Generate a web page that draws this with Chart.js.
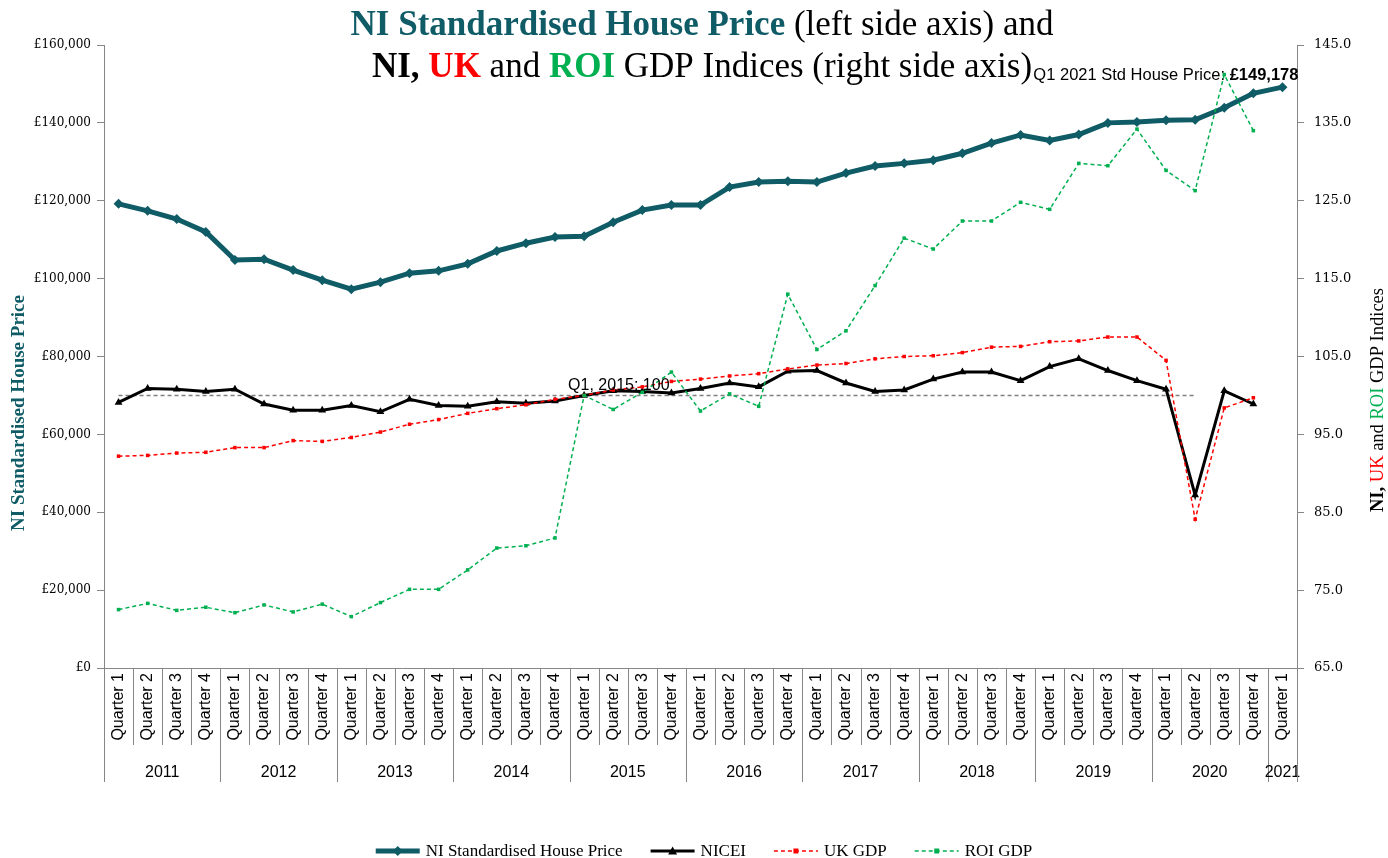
<!DOCTYPE html>
<html>
<head>
<meta charset="utf-8">
<script src="https://cdn.jsdelivr.net/npm/chart.js@4.4.0/dist/chart.umd.min.js"></script>
<style>
  html, body { margin: 0; padding: 0; background: #fff; }
  canvas { display: block; }
</style>
</head>
<body>
<canvas id="myChart" width="1388" height="858"></canvas>
<script>
// ---- data ----
var years = ['2011','2012','2013','2014','2015','2016','2017','2018','2019','2020','2021'];
var quartersPerYear = [4,4,4,4,4,4,4,4,4,4,1];
var quarterNames = ['Quarter 1','Quarter 2','Quarter 3','Quarter 4'];

var housePrice = [119200,117400,115300,112000,104800,105000,102200,99600,97300,99100,
                  101400,102000,103800,107100,109100,110700,110900,114500,117600,118900,
                  118900,123500,124800,125000,124800,127100,128900,129600,130400,132200,
                  134800,136900,135500,137000,140000,140200,140700,140800,143900,147600,149178];
var nicei = [99.1,100.9,100.8,100.5,100.8,98.9,98.1,98.1,98.7,97.9,
             99.5,98.7,98.6,99.2,99.0,99.3,100.0,100.6,100.5,100.3,
             100.9,101.6,101.1,103.1,103.2,101.6,100.5,100.7,102.1,103.0,
             103.0,101.9,103.7,104.7,103.2,101.9,100.8,87.2,100.6,98.9];
var ukGdp = [92.2,92.3,92.6,92.7,93.3,93.3,94.2,94.1,94.6,95.3,
             96.3,96.9,97.7,98.3,98.8,99.5,100.0,100.7,101.1,101.8,
             102.1,102.5,102.8,103.4,103.9,104.1,104.7,105.0,105.1,105.5,
             106.2,106.3,106.9,107.0,107.5,107.5,104.5,84.1,98.4,99.7];
var roiGdp = [72.5,73.3,72.4,72.8,72.1,73.1,72.2,73.2,71.6,73.4,
              75.1,75.1,77.6,80.4,80.7,81.7,100.0,98.2,100.4,103.0,
              98.0,100.2,98.6,113.0,105.9,108.3,114.1,120.2,118.8,122.4,
              122.4,124.8,123.9,129.8,129.5,134.2,128.9,126.3,141.2,134.0];

var baseValue = 100;      // Q1 2015 = 100 reference line
var baseIndex = 16;       // Q1 2015
var baseLastIndex = 37;   // dashed line runs to Q2 2020

var labels = [];
years.forEach(function(y, k){
  for (var q = 0; q < quartersPerYear[k]; q++) labels.push(quarterNames[q]);
});

var TEAL = '#0f5b66', RED = '#ff0000', GREEN = '#00b050', GREY = '#868686';
var SERIF = "'Liberation Serif', serif";
var SANS = "'Liberation Sans', sans-serif";

// draws a row of coloured text pieces starting at x
function drawPieces(ctx, pieces, x, y, size){
  pieces.forEach(function(p){
    ctx.font = (p.b ? 'bold ' : '') + size + 'px ' + (p.f || SERIF);
    ctx.fillStyle = p.c || '#000';
    ctx.fillText(p.t, x, y);
    x += ctx.measureText(p.t).width;
  });
}
function piecesWidth(ctx, pieces, size){
  var w = 0;
  pieces.forEach(function(p){
    ctx.font = (p.b ? 'bold ' : '') + size + 'px ' + (p.f || SERIF);
    w += ctx.measureText(p.t).width;
  });
  return w;
}

function marker(ctx, style, x, y, r, color){
  ctx.save();
  ctx.fillStyle = color;
  ctx.beginPath();
  if (style === 'rectRot') {
    ctx.moveTo(x, y - r); ctx.lineTo(x + r, y); ctx.lineTo(x, y + r); ctx.lineTo(x - r, y);
  } else if (style === 'triangle') {
    ctx.moveTo(x, y - r); ctx.lineTo(x + r, y + r * 0.8); ctx.lineTo(x - r, y + r * 0.8);
  } else {
    ctx.rect(x - r, y - r, 2 * r, 2 * r);
  }
  ctx.closePath();
  ctx.fill();
  ctx.restore();
}

var extras = {
  id: 'extras',
  beforeDatasetsDraw: function(chart){
    var ctx = chart.ctx, xs = chart.scales.x, yr = chart.scales.y1;
    // Q1 2015 = 100 dashed line
    var yb = yr.getPixelForValue(baseValue);
    ctx.save();
    ctx.strokeStyle = '#7f7f7f';
    ctx.lineWidth = 1.5;
    ctx.setLineDash([4, 3]);
    ctx.beginPath();
    ctx.moveTo(xs.getPixelForTick(0), yb);
    ctx.lineTo(xs.getPixelForTick(baseLastIndex), yb);
    ctx.stroke();
    ctx.restore();
  },
  afterDraw: function(chart){
    var ctx = chart.ctx, xs = chart.scales.x, yl = chart.scales.y, yr = chart.scales.y1;
    var area = chart.chartArea;
    ctx.save();
    ctx.textBaseline = 'alphabetic';

    // title, two lines
    var line1 = [{t:'NI Standardised House Price', b:true, c:TEAL}, {t:' (left side axis) and'}];
    var line2 = [{t:'NI,', b:true}, {t:' '}, {t:'UK', b:true, c:RED}, {t:' and '},
                 {t:'ROI', b:true, c:GREEN}, {t:' GDP Indices (right side axis)'}];
    var ts = 35;
    drawPieces(ctx, line1, 702 - piecesWidth(ctx, line1, ts) / 2, 35, ts);
    drawPieces(ctx, line2, 702 - piecesWidth(ctx, line2, ts) / 2, 77, ts);

    // left axis title
    ctx.save();
    ctx.translate(24, 413);
    ctx.rotate(-Math.PI / 2);
    ctx.textAlign = 'center';
    ctx.font = 'bold 19px ' + SERIF;
    ctx.fillStyle = TEAL;
    ctx.fillText('NI Standardised House Price', 0, 0);
    ctx.restore();

    // right axis title
    var rt = [{t:'NI,', b:true}, {t:' '}, {t:'UK', c:RED}, {t:' and '}, {t:'ROI', c:GREEN}, {t:' GDP Indices'}];
    ctx.save();
    ctx.translate(1383, 400);
    ctx.rotate(-Math.PI / 2);
    drawPieces(ctx, rt, -piecesWidth(ctx, rt, 18.5) / 2, 0, 18.5);
    ctx.restore();

    // category separators and year row
    var step = xs.getPixelForTick(1) - xs.getPixelForTick(0);
    var x0 = xs.getPixelForTick(0) - step / 2;
    ctx.strokeStyle = GREY;
    ctx.lineWidth = 1;
    var idx = 0;
    ctx.font = '16px ' + SANS;
    ctx.fillStyle = '#000';
    ctx.textAlign = 'center';
    for (var k = 0; k < years.length; k++) {
      var xa = x0 + idx * step;
      ctx.beginPath(); ctx.moveTo(Math.round(xa) + 0.5, area.bottom); ctx.lineTo(Math.round(xa) + 0.5, 782); ctx.stroke();
      for (var q = 1; q < quartersPerYear[k]; q++) {
        var xq = Math.round(x0 + (idx + q) * step) + 0.5;
        ctx.beginPath(); ctx.moveTo(xq, area.bottom); ctx.lineTo(xq, 745); ctx.stroke();
      }
      var xb = x0 + (idx + quartersPerYear[k]) * step;
      ctx.fillText(years[k], (xa + xb) / 2, 777);
      idx += quartersPerYear[k];
    }
    var xe = Math.round(x0 + idx * step) + 0.5;
    ctx.beginPath(); ctx.moveTo(xe, area.bottom); ctx.lineTo(xe, 782); ctx.stroke();

    // Q1 2015 label
    ctx.textAlign = 'left';
    ctx.font = '16px ' + SANS;
    ctx.fillStyle = '#000';
    ctx.fillText('Q1, 2015: 100', xs.getPixelForTick(baseIndex) - 16, yr.getPixelForValue(baseValue) - 5);

    // last house price label
    var last = housePrice.length - 1;
    var lp = [{t:'Q1 2021 Std House Price: ', f:SANS},
              {t:'£' + housePrice[last].toLocaleString('en-GB'), b:true, f:SANS}];
    var lw = piecesWidth(ctx, lp, 16.5);
    drawPieces(ctx, lp, xs.getPixelForTick(last) + 16 - lw, yl.getPixelForValue(housePrice[last]) - 7, 16.5);

    // legend
    var items = chart.data.datasets.map(function(d){
      return {label: d.label, color: d.borderColor, lw: d.borderWidth, dash: d.borderDash || [], ps: d.pointStyle, r: d.pointRadius};
    });
    ctx.font = '17px ' + SERIF;
    var lineLen = 44, gap = 6, between = 28, total = 0;
    items.forEach(function(it){ it.w = ctx.measureText(it.label).width; total += lineLen + gap + it.w; });
    total += between * (items.length - 1);
    var lx = 704 - total / 2, ly = 851;
    items.forEach(function(it){
      ctx.save();
      ctx.strokeStyle = it.color;
      ctx.lineWidth = it.lw;
      ctx.setLineDash(it.dash);
      ctx.beginPath(); ctx.moveTo(lx, ly); ctx.lineTo(lx + lineLen, ly); ctx.stroke();
      ctx.restore();
      marker(ctx, it.ps, lx + lineLen / 2, ly, it.r, it.color);
      ctx.fillStyle = '#000';
      ctx.textAlign = 'left';
      ctx.textBaseline = 'middle';
      ctx.font = '17px ' + SERIF;
      ctx.fillText(it.label, lx + lineLen + gap, ly + 1);
      lx += lineLen + gap + it.w + between;
    });
    ctx.restore();
  }
};

var config = {
  type: 'line',
  data: {
    labels: labels,
    datasets: [
      { label: 'NI Standardised House Price', data: housePrice, yAxisID: 'y',
        borderColor: TEAL, backgroundColor: TEAL, borderWidth: 5,
        pointStyle: 'rectRot', pointRadius: 5, pointBorderWidth: 0, order: 4 },
      { label: 'NICEI', data: nicei, yAxisID: 'y1',
        borderColor: '#000', backgroundColor: '#000', borderWidth: 3,
        pointStyle: 'triangle', pointRadius: 4.5, pointBorderWidth: 0, order: 3 },
      { label: 'UK GDP', data: ukGdp, yAxisID: 'y1',
        borderColor: RED, backgroundColor: RED, borderWidth: 1.5, borderDash: [4, 3],
        pointStyle: 'rect', pointRadius: 2.5, pointBorderWidth: 0, order: 2 },
      { label: 'ROI GDP', data: roiGdp, yAxisID: 'y1',
        borderColor: GREEN, backgroundColor: GREEN, borderWidth: 1.5, borderDash: [4, 3],
        pointStyle: 'rect', pointRadius: 2.5, pointBorderWidth: 0, order: 1 }
    ]
  },
  options: {
    responsive: false,
    animation: false,
    lineTension: 0,
    layout: { padding: { top: 45, left: 0, right: 0, bottom: 0 } },
    plugins: { legend: { display: false }, title: { display: false }, tooltip: { enabled: false } },
    scales: {
      x: {
        offset: true,
        grid: { display: false, drawTicks: false },
        border: { display: true, color: GREY },
        ticks: { autoSkip: false, minRotation: 90, maxRotation: 90, padding: 5,
                 color: '#000', font: { family: SANS, size: 16 } },
        afterFit: function(s){ s.height = 190; }
      },
      y: {
        position: 'left', min: 0, max: 160000,
        grid: { drawOnChartArea: false, drawTicks: true, tickLength: 7, color: GREY },
        border: { display: true, color: GREY },
        ticks: { stepSize: 20000, padding: 6, color: '#000', font: { family: "'DejaVu Serif', serif", size: 12 },
                 callback: function(v){ return '£' + v.toLocaleString('en-GB'); } },
        afterFit: function(s){ s.width = 104; }
      },
      y1: {
        position: 'right', min: 65, max: 145,
        grid: { drawOnChartArea: false, drawTicks: true, tickLength: 7, color: GREY },
        border: { display: true, color: GREY },
        ticks: { stepSize: 10, padding: 10, color: '#000', font: { family: "'DejaVu Serif', serif", size: 13 },
                 callback: function(v){ return v.toFixed(1); } },
        afterFit: function(s){ s.width = 91; }
      }
    }
  },
  plugins: [extras]
};

var myChart = new Chart(document.getElementById('myChart'), config);
</script>
</body>
</html>
